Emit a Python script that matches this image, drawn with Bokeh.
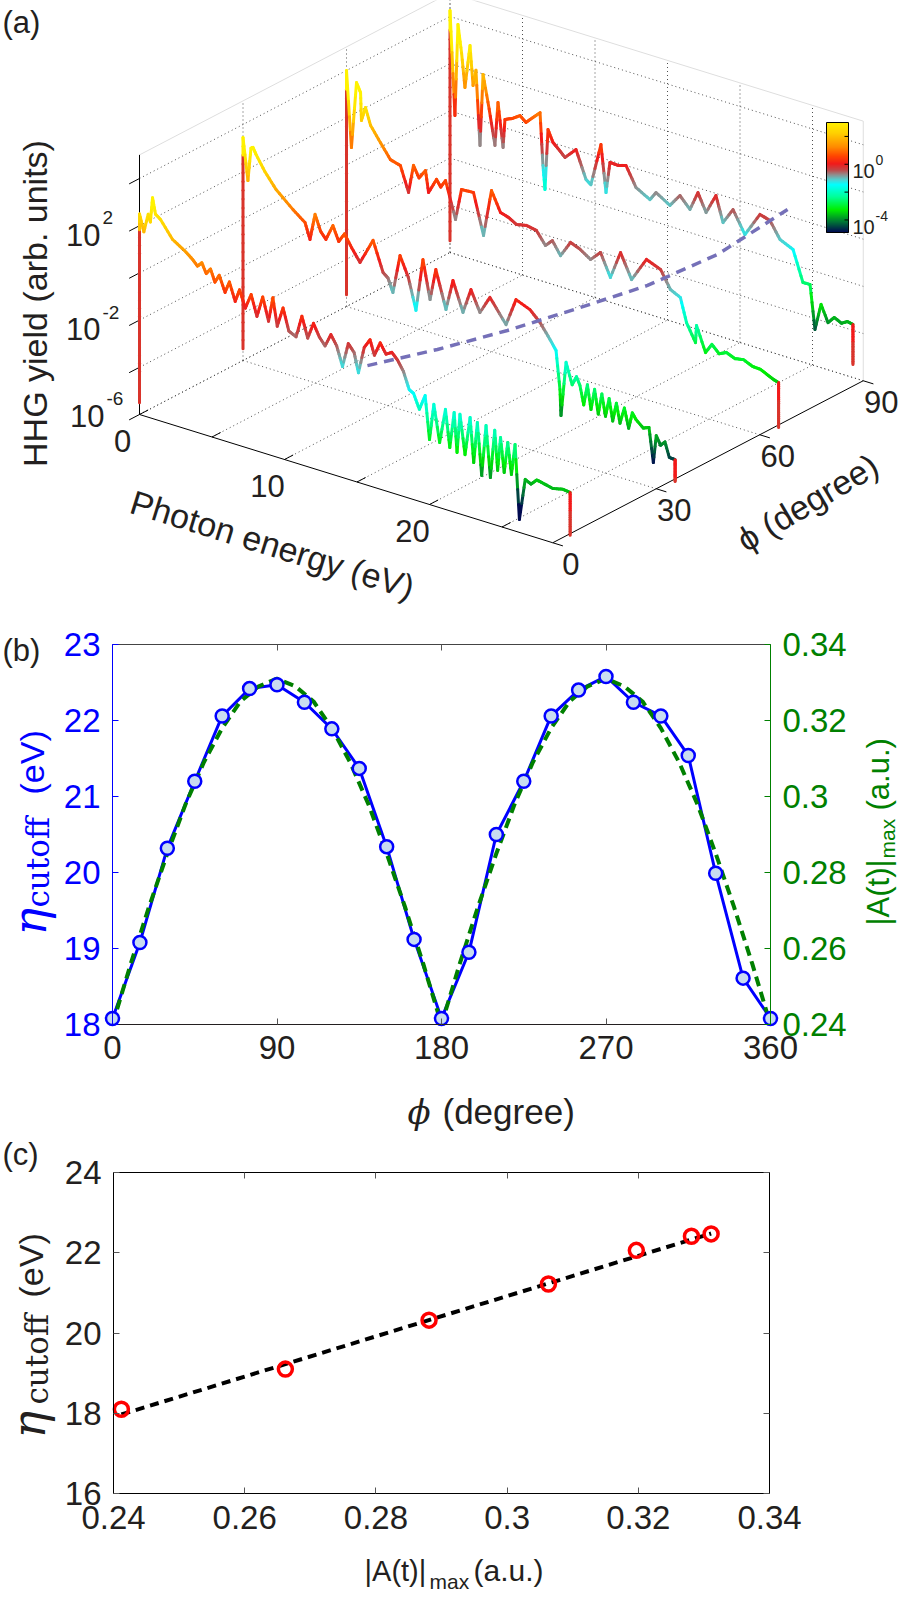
import numpy as np
from bokeh.plotting import figure
from bokeh.models import Range1d, LinearAxis, FixedTicker, CustomJSTickFormatter
from bokeh.embed import file_html
from bokeh.resources import INLINE
from bokeh.core.properties import value

# ====================== DATA ======================
# (a) HHG spectra: photon energy (eV) and log10(yield) for each phi (degree)
E_phi0 = [0, 0, 0.3, 0.6, 0.75, 0.9, 1.1, 1.45, 2.28, 3.1,
          3.66, 4.0, 4.3, 4.6, 4.9, 5.2, 5.5, 5.9, 6.2, 6.6,
          6.9, 7.3, 7.7, 8.1, 8.5, 8.9, 9.2, 9.5, 9.9, 10.3,
          10.8, 11.2, 11.6, 12.0, 12.4, 12.8, 13.2, 13.6, 14.0, 14.4,
          14.8, 15.1, 15.5, 15.9, 16.2, 16.6, 17.0, 17.4, 17.8, 18.2,
          18.6, 18.9, 19.3, 19.7, 20.0, 20.3, 20.7, 21.1, 21.4, 21.7,
          21.9, 22.1, 22.45, 22.8, 23.05, 23.3, 23.6, 23.9, 24.2, 24.5,
          24.7, 24.9, 25.15, 25.4, 25.65, 25.9, 26.2, 26.6, 27.0, 27.4,
          27.8, 28.5, 29.2, 29.7, 29.7]
logY_phi0 = [-5.5, 2.5, 1.8, 2.6, 2.3, 3.36, 2.7, 2.54, 1.85, 1.54,
             1.27, 1.05, 1.25, 0.85, 1.1, 0.6, 0.95, 0.3, 0.8, 0.05,
             0.6, -0.1, 0.55, -0.3, 0.6, -0.35, 0.7, -0.45, 0.4, -0.5,
             -0.65, 0.3, -0.55, 0.15, -0.35, -0.65, -0.1, -0.5, -1.3, -0.25,
             -0.55, -1.35, -0.2, 0.2, -0.4, 0.2, -0.2, -0.05, -0.3, -0.7,
             -1.4, -1.5, -2.1, -1.44, -3.25, -1.7, -3.24, -1.76, -3.32, -1.78,
             -3.43, -1.78, -3.42, -1.78, -3.64, -1.9, -4.08, -1.91, -4.06, -2.0,
             -3.66, -2.23, -3.66, -2.34, -3.65, -2.33, -5.45, -3.68, -3.8, -3.55,
             -3.6, -3.7, -3.6, -3.64, -5.45]

E_phi30 = [0, 0, 0.34, 0.55, 0.69, 0.9, 1.5, 2.28, 3.45, 4.28,
           4.62, 4.97, 5.35, 5.72, 6.2, 6.6, 7.0, 7.5, 8.07, 8.97,
           9.66, 10.0, 10.34, 10.83, 11.4, 11.93, 12.41, 12.9, 13.3, 14.0,
           14.48, 15.17, 15.72, 16.34, 17.03, 18.14, 18.83, 19.79, 20.48, 21.17,
           21.59, 21.86, 21.93, 22.28, 22.7, 23.0, 23.24, 23.5, 23.75, 24.0,
           24.25, 24.5, 24.75, 25.0, 25.25, 25.5, 25.75, 26.0, 26.3, 26.6,
           26.85, 27.1, 27.6, 28.0, 28.3, 28.5, 28.8, 29.1, 29.4, 29.8, 29.8]
logY_phi30 = [-5.5, 3.45, 1.69, 3.1, 3.16, 2.9, 2.3, 1.68, 1.05, 0.66,
              0.01, 1.14, 0.5, 0.22, 0.9, 0.3, 0.7, 0.2, -0.31, 0.8,
              -0.43, -0.6, -1.15, 0.51, -0.3, -1.6, 0.64, -0.96, 0.39, -1.17,
              0.15, -1.07, 0.0, -0.85, -0.08, -1.02, 0.17, -0.07, -0.48, -1.07,
              -1.46, -3.06, -4.15, -1.83, -2.7, -2.3, -2.63, -3.4, -2.5, -3.5,
              -2.6, -3.6, -2.7, -3.6, -2.8, -3.7, -2.9, -3.7, -3.0, -3.8,
              -3.1, -3.33, -3.6, -3.5, -4.93, -3.75, -4.1, -3.9, -4.5, -4.52, -5.45]

E_phi60 = [0, 0, 0.34, 0.69, 0.97, 1.03, 1.31, 1.66, 2.34, 3.03,
           3.72, 4.28, 4.62, 5.0, 5.45, 5.66, 6.21, 6.5, 6.83, 7.52,
           7.93, 8.76, 9.45, 10.0, 10.62, 11.2, 11.72, 12.4, 13.1, 13.72,
           14.2, 14.76, 15.45, 16.1, 16.83, 17.52, 18.2, 18.9, 19.66, 20.69,
           21.66, 22.34, 23.03, 23.45, 24.07, 24.14, 24.76, 25.2, 25.7, 26.2,
           26.8, 27.38, 28.0, 28.55, 29.0, 29.45, 29.8, 29.8]
logY_phi60 = [-5.5, 4.0, 0.8, 3.62, 3.25, 2.08, 2.68, 1.99, 1.39, 0.8,
              0.68, -0.35, 0.86, 0.4, 0.8, -0.09, 0.57, 0.3, 0.64, -0.88,
              0.47, 0.5, -1.19, 0.82, 0.01, -0.1, -0.29, -0.2, -0.28, -0.8,
              -0.5, -1.03, -0.34, -0.5, -0.8, -0.37, -1.3, -0.11, -1.11, -0.06,
              -0.3, -1.02, -1.23, -2.21, -2.94, -2.2, -3.23, -2.8, -3.1, -2.95,
              -3.1, -3.03, -3.2, -3.22, -3.35, -3.48, -3.54, -5.45]

E_phi90 = [0, 0, 0.34, 0.55, 0.8, 1.03, 1.38, 1.59, 1.79, 2.07,
           2.28, 2.7, 3.1, 3.31, 3.66, 3.79, 4.3, 4.83, 5.24, 5.7,
           6.21, 6.41, 6.55, 6.76, 7.1, 7.5, 7.93, 8.69, 9.38, 9.72,
           10.41, 10.76, 11.03, 11.6, 12.14, 12.83, 13.79, 14.21, 15.17, 15.86,
           16.55, 17.1, 17.66, 18.34, 18.83, 19.52, 20.34, 21.38, 22.07, 22.76,
           23.66, 24.34, 24.83, 25.17, 25.59, 26.07, 26.5, 27.0, 27.4, 27.79, 27.79]
logY_phi90 = [-5.5, 4.25, -0.13, 3.77, 2.6, 1.19, 3.03, 1.38, 2.06, -1.07,
              1.98, 0.6, -0.87, 0.99, -0.85, 0.36, 0.5, 0.72, 0.51, 0.8,
              1.11, -1.09, -2.08, 0.5, 0.02, -0.2, -0.46, 0.02, -1.12, -1.27,
              0.56, -1.41, -0.08, -0.1, 0.0, -0.8, -1.13, -0.75, -1.11, -0.56,
              -1.02, -0.2, -0.94, -0.09, -1.14, -0.46, -1.36, -0.31, -0.44, -1.11,
              -1.36, -2.63, -2.62, -4.46, -3.32, -4.0, -3.7, -3.85, -3.7, -3.75, -5.45]

# cutoff trace (dashed) in (a)
trace_phi = [0, 15, 30, 45, 60, 75, 90]
trace_E = [15.72, 16.98, 18.24, 19.5, 20.76, 22.02, 23.28]
trace_logY = [-0.93, -1.15, -1.25, -1.22, -1.15, -0.74, 0.26]

# (a) axes ticks
E_ticks = [0, 5, 10, 15, 20, 25]
E_labelled = [0, 10, 20]
phi_ticks = [0, 30, 60, 90]
z_ticks = [-6, -4, -2, 0, 2, 4]
z_labelled = [2, -2, -6]
cbar_ticks = [2, 0, -2, -4]
cbar_labelled = [0, -4]

# (b) cutoff energy vs phi, and |A(t)|max vs phi
phi_b = [0, 15, 30, 45, 60, 75, 90, 105, 120, 135, 150, 165, 180,
         195, 210, 225, 240, 255, 270, 285, 300, 315, 330, 345, 360]
eta_b = [18.08, 19.08, 20.32, 21.2, 22.06, 22.42, 22.47, 22.24, 21.89, 21.37, 20.34, 19.12, 18.08,
         18.95, 20.5, 21.2, 22.06, 22.4, 22.58, 22.24, 22.06, 21.54, 19.99, 18.61, 18.08]
phi_A = [0, 10, 20, 30, 40, 50, 60, 70, 80, 90, 100, 110, 120, 130, 140, 150, 160, 170, 180,
         190, 200, 210, 220, 230, 240, 250, 260, 270, 280, 290, 300, 310, 320, 330, 340, 350, 360]
A_max = [0.240, 0.256, 0.271, 0.285, 0.298, 0.309, 0.318, 0.325, 0.329, 0.331,
         0.329, 0.325, 0.318, 0.309, 0.298, 0.285, 0.271, 0.256, 0.240,
         0.256, 0.271, 0.285, 0.298, 0.309, 0.318, 0.325, 0.329, 0.331,
         0.329, 0.325, 0.318, 0.309, 0.298, 0.285, 0.271, 0.256, 0.240]
phi_b_ticks = [0, 90, 180, 270, 360]
eta_b_ticks = [18, 19, 20, 21, 22, 23]
A_ticks = [0.24, 0.26, 0.28, 0.3, 0.32, 0.34]

# (c) cutoff energy vs |A(t)|max, with linear fit
A_c = [0.2412, 0.2662, 0.2881, 0.3063, 0.3197, 0.3281, 0.3311]
eta_c = [18.10, 19.10, 20.32, 21.22, 22.06, 22.41, 22.47]
fit_A = [0.2412, 0.3311]
fit_eta = [17.97, 22.48]
c_x_ticks = [0.24, 0.26, 0.28, 0.3, 0.32, 0.34]
c_y_ticks = [16, 18, 20, 22, 24]

# ====================== STYLE ======================
SANS = "Liberation Sans"
SERIF = "DejaVu Serif"
INK = "#231f20"
BLUE = "#0000ff"
GREEN = "#008000"

CMAP_Z = [-4.9, -4.17, -3.3, -2.37, -1.5, -1.15, -0.8, -0.45, 0.0, 0.55, 1.22, 2.2, 3.0]
CMAP_C = ["#000a50", "#007535", "#00ee00", "#00ff99", "#00ffff", "#50d0d0", "#8f8f8f",
          "#c04848", "#f21a1a", "#ff4500", "#ff8c00", "#ffd000", "#fff200"]
CH = [[int(c[1 + 2 * k:3 + 2 * k], 16) for c in CMAP_C] for k in range(3)]


def cmap(z):
    z = min(max(z, CMAP_Z[0]), CMAP_Z[-1])
    rgb = [int(round(np.interp(z, CMAP_Z, CH[k]))) for k in range(3)]
    return "#%02x%02x%02x" % tuple(rgb)


SPIKE_RED = "#d9342b"

# whole page is one canvas, default ranges = page pixels
PG_L, PG_R, PG_T, PG_B = 8, 908, 8, 1600
p = figure(width=PG_R - PG_L, height=PG_B - PG_T,
           x_range=Range1d(PG_L, PG_R), y_range=Range1d(PG_B, PG_T),
           min_border=0, output_backend="svg", toolbar_location=None,
           x_axis_type=None, y_axis_type=None, outline_line_color=None)


def txt(x, y, t, size, color=INK, font=SANS, style="normal", angle=0.0,
        align="left", baseline="alphabetic"):
    p.text(x=list(np.atleast_1d(x)), y=list(np.atleast_1d(y)), text=list(np.atleast_1d(t)),
           text_font=value(font), text_font_size=f"{size}px", text_font_style=style,
           text_color=color, angle=angle, text_align=align, text_baseline=baseline)


# ---------------- panel (a): projected 3D view ----------------
AX0, AY0 = 147.0, 422.0
E_DX, E_DY = 14.5, 4.5
P_DX, P_DY = 3.45, -1.8
Z_DY = -23.6
Z_LO, Z_HI = -6.0, 5.0
E_HI = 28.5
P_HI = 90.0


def proj(E, P, Z):
    E = np.asarray(E, float)
    P = np.asarray(P, float)
    Z = np.asarray(Z, float)
    return AX0 + E_DX * E + P_DX * P, AY0 + E_DY * E + P_DY * P + Z_DY * (Z - Z_LO)


def seg3(a, b, xs, ys):
    x, y = proj([a[0], b[0]], [a[1], b[1]], [a[2], b[2]])
    xs.append(x.tolist())
    ys.append(y.tolist())


fx, fy = [], []
seg3((0, P_HI, Z_HI), (E_HI, P_HI, Z_HI), fx, fy)
seg3((E_HI, P_HI, Z_LO), (E_HI, P_HI, Z_HI), fx, fy)
seg3((0, 0, Z_HI), (0, P_HI, Z_HI), fx, fy)
p.multi_line(fx, fy, line_color="#dedede", line_width=1)

gx, gy = [], []
for z in z_ticks:
    seg3((0, P_HI, z), (E_HI, P_HI, z), gx, gy)
    seg3((0, 0, z), (0, P_HI, z), gx, gy)
for E in E_ticks:
    seg3((E, P_HI, Z_LO), (E, P_HI, Z_HI), gx, gy)
    seg3((E, 0, Z_LO), (E, P_HI, Z_LO), gx, gy)
for P in phi_ticks[1:]:
    seg3((0, P, Z_LO), (0, P, Z_HI), gx, gy)
    seg3((0, P, Z_LO), (E_HI, P, Z_LO), gx, gy)
p.multi_line(gx, gy, line_color="#3c3c3c", line_width=0.9, line_dash="1 3")

axx, axy = [], []
seg3((0, 0, Z_LO), (E_HI, 0, Z_LO), axx, axy)
seg3((E_HI, 0, Z_LO), (E_HI, P_HI, Z_LO), axx, axy)
seg3((0, 0, Z_LO), (0, 0, Z_HI), axx, axy)
for z in z_ticks:
    seg3((0, 0, z), (0, -3, z), axx, axy)
for E in E_ticks:
    seg3((E, 0, Z_LO), (E, 2.5, Z_LO), axx, axy)
for P in phi_ticks:
    seg3((E_HI, P, Z_LO), (E_HI + 0.7, P, Z_LO), axx, axy)
p.multi_line(axx, axy, line_color="#000000", line_width=1)

curves = [(0, E_phi0, logY_phi0), (30, E_phi30, logY_phi30),
          (60, E_phi60, logY_phi60), (90, E_phi90, logY_phi90)]
for P, Es, Zs in reversed(curves):
    Es = np.asarray(Es, float)
    Zs = np.asarray(Zs, float)
    n = len(Es)
    X0, Y0, X1, Y1, C = [], [], [], [], []
    for i in range(n - 1):
        spike = (i == 0) or (i == n - 2)
        ztop = max(Zs[i], Zs[i + 1])
        ns = 24 if spike else 5
        t = np.linspace(0, 1, ns + 1)
        Et = Es[i] + (Es[i + 1] - Es[i]) * t
        Zt = Zs[i] + (Zs[i + 1] - Zs[i]) * t
        xt, yt = proj(Et, np.full_like(Et, P), Zt)
        for k in range(ns):
            zm = 0.5 * (Zt[k] + Zt[k + 1])
            if spike:
                col = SPIKE_RED if zm < ztop - 0.8 else cmap(max(zm, 0.0))
            else:
                col = cmap(zm)
            X0.append(xt[k]); Y0.append(yt[k]); X1.append(xt[k + 1]); Y1.append(yt[k + 1]); C.append(col)
    p.segment(x0=X0, y0=Y0, x1=X1, y1=Y1, line_color=C, line_width=3, line_cap="round")

tx, ty = proj(trace_E, trace_phi, trace_logY)
p.line(tx, ty, line_color="#7570b8", line_width=3.5, line_dash="10 7")

# colorbar
CB_L, CB_R, CB_T, CB_B = 834, 856, 130, 240
CB_ZT, CB_ZB = 3.0, -4.9


def cb_y(z):
    return CB_T + (CB_ZT - z) * (CB_B - CB_T) / (CB_ZT - CB_ZB)


edges = np.linspace(CB_T, CB_B, 111)
mids = 0.5 * (edges[:-1] + edges[1:])
zc = CB_ZT - (mids - CB_T) * (CB_ZT - CB_ZB) / (CB_B - CB_T)
p.quad(left=CB_L, right=CB_R, top=edges[:-1] - 0.5, bottom=edges[1:] + 0.5,
       fill_color=[cmap(z) for z in zc], line_color=None)
p.quad(left=[CB_L], right=[CB_R], top=[CB_T], bottom=[CB_B], fill_color=None,
       line_color="#000000", line_width=1)
p.segment(x0=[CB_R - 4] * len(cbar_ticks), x1=[CB_R] * len(cbar_ticks),
          y0=[cb_y(z) for z in cbar_ticks], y1=[cb_y(z) for z in cbar_ticks],
          line_color="#000000", line_width=1)
txt([CB_R + 4] * len(cbar_labelled), [cb_y(z) + 7 for z in cbar_labelled],
    ["10"] * len(cbar_labelled), 20)
txt([CB_R + 27] * len(cbar_labelled), [cb_y(z) - 4 for z in cbar_labelled],
    [str(z) for z in cbar_labelled], 14)

# z tick labels (10^n)
z_lab_dx = {2: 0, -2: 0, -6: 4}
z_lab_dy = {2: 9, -2: 9, -6: 1}
_, zy = proj([0] * len(z_labelled), [0] * len(z_labelled), z_labelled)
zx10 = [108 + z_lab_dx[z] for z in z_labelled]
zb10 = [zy[i] + z_lab_dy[z] for i, z in enumerate(z_labelled)]
txt(zx10, zb10, ["10"] * len(z_labelled), 31, align="right")
txt([v + 2 for v in zx10], [v - 17 for v in zb10], [str(z) for z in z_labelled], 19)

ex, ey = proj(E_labelled, [0] * len(E_labelled), [Z_LO] * len(E_labelled))
txt(ex - 17, ey + 26, [str(e) for e in E_labelled], 31, align="center")
px_, py_ = proj([E_HI] * len(phi_ticks), phi_ticks, [Z_LO] * len(phi_ticks))
txt(px_ + 18, py_ + 21, [str(v) for v in phi_ticks], 31, align="center")

txt(280, 552, "Photon energy (eV)", 34, angle=-0.30, align="center", baseline="middle")
txt(815, 510, "\u03d5 (degree)", 34, angle=0.535, align="center", baseline="middle")
txt(42, 311, "HHG yield (arb. units)", 34, angle=np.pi / 2, align="center", baseline="middle")
txt(10, 30, "(a)", 31)


# ---------------- helper: ranges placed on the page ----------------
def place(v0, v1, p0, p1, lo, hi):
    s = (v1 - v0) / (p1 - p0)
    return Range1d(v0 + (lo - p0) * s, v0 + (hi - p0) * s)


def style_axis(ax, line_color, label_color, tick_color, size="33px", standoff=12):
    ax.axis_line_color = line_color
    ax.major_tick_line_color = tick_color
    ax.major_tick_in = 6
    ax.major_tick_out = 0
    ax.minor_tick_line_color = None
    ax.major_label_text_font = SANS
    ax.major_label_text_font_size = size
    ax.major_label_text_color = label_color
    ax.major_label_standoff = standoff


fmt2 = "return (Math.round(tick*100)/100).toString();"
blank = "return '';"


def add_axis(side, xr, yr, loc, bounds, ticks, line_color, label_color, tick_color,
             fmt=None, labels=True, standoff=12):
    ax = LinearAxis(x_range_name=xr, y_range_name=yr, fixed_location=loc, bounds=bounds,
                    ticker=FixedTicker(ticks=ticks))
    if not labels:
        ax.formatter = CustomJSTickFormatter(code=blank)
    elif fmt is not None:
        ax.formatter = CustomJSTickFormatter(code=fmt)
    style_axis(ax, line_color, label_color, tick_color, standoff=standoff)
    p.add_layout(ax, side)


# ---------------- panel (b) ----------------
B_L, B_R, B_T, B_B = 120, 778, 652, 1032
p.extra_x_ranges["xb"] = place(0, 360, B_L, B_R, PG_L, PG_R)
p.extra_y_ranges["yb"] = place(18, 23, B_B, B_T, PG_B, PG_T)
p.extra_y_ranges["ya"] = place(0.24, 0.34, B_B, B_T, PG_B, PG_T)

add_axis("below", "xb", "yb", 18, (0, 360), phi_b_ticks, INK, INK, "#555555", standoff=11)
add_axis("above", "xb", "yb", 23, (0, 360), phi_b_ticks, "#444444", INK, "#555555", labels=False)
add_axis("left", "xb", "yb", 0, (18, 23), eta_b_ticks, BLUE, BLUE, BLUE)
add_axis("right", "xb", "ya", 360, (0.24, 0.34), A_ticks, GREEN, GREEN, GREEN, fmt=fmt2)

p.line(phi_b, eta_b, x_range_name="xb", y_range_name="yb", line_color=BLUE, line_width=3)
p.line(phi_A, A_max, x_range_name="xb", y_range_name="ya", line_color=GREEN, line_width=4,
       line_dash="10 6")
p.scatter(phi_b, eta_b, x_range_name="xb", y_range_name="yb", marker="circle", size=13,
          fill_color="#c8dcf0", line_color=BLUE, line_width=2.5)

txt(10, 658, "(b)", 31)
txt(37, 943, "\u03b7", 46, BLUE, SERIF, "italic", np.pi / 2)
txt(45, 915, "cutoff", 31, BLUE, SERIF, "normal", np.pi / 2)
txt(39, 802, "(eV)", 34, BLUE, SANS, "normal", np.pi / 2)
txt(886, 933, "|A(t)|", 31, GREEN, SANS, "normal", np.pi / 2)
txt(895, 866, "max", 21, GREEN, SANS, "normal", np.pi / 2)
txt(886, 818, "(a.u.)", 31, GREEN, SANS, "normal", np.pi / 2)
txt(415, 1119, "\u03d5", 34, INK, SERIF, "italic")
txt(450, 1119, "(degree)", 35)

# ---------------- panel (c) ----------------
C_L, C_R, C_T, C_B = 121, 777, 1180, 1501
p.extra_x_ranges["xc"] = place(0.24, 0.34, C_L, C_R, PG_L, PG_R)
p.extra_y_ranges["yc"] = place(16, 24, C_B, C_T, PG_B, PG_T)

add_axis("below", "xc", "yc", 16, (0.24, 0.34), c_x_ticks, "#000000", INK, "#555555",
         fmt=fmt2, standoff=12)
add_axis("above", "xc", "yc", 24, (0.24, 0.34), c_x_ticks, "#000000", INK, "#555555", labels=False)
add_axis("left", "xc", "yc", 0.24, (16, 24), c_y_ticks, "#000000", INK, "#555555")
add_axis("right", "xc", "yc", 0.34, (16, 24), c_y_ticks, "#000000", INK, "#555555", labels=False)

p.line(fit_A, fit_eta, x_range_name="xc", y_range_name="yc", line_color="#000000",
       line_width=4, line_dash="9 6")
p.scatter(A_c, eta_c, x_range_name="xc", y_range_name="yc", marker="circle", size=14,
          fill_color=None, line_color="#ff0000", line_width=3.5)

txt(10, 1162, "(c)", 31)
txt(36, 1446, "\u03b7", 46, INK, SERIF, "italic", np.pi / 2)
txt(44, 1412, "cutoff", 31, INK, SERIF, "normal", np.pi / 2)
txt(38, 1305, "(eV)", 34, INK, SANS, "normal", np.pi / 2)
txt(372, 1578, "|A(t)|", 29)
txt(437, 1589, "max", 21)
txt(481, 1578, "(a.u.)", 30)

open("out.html", "w").write(file_html(p, INLINE))
